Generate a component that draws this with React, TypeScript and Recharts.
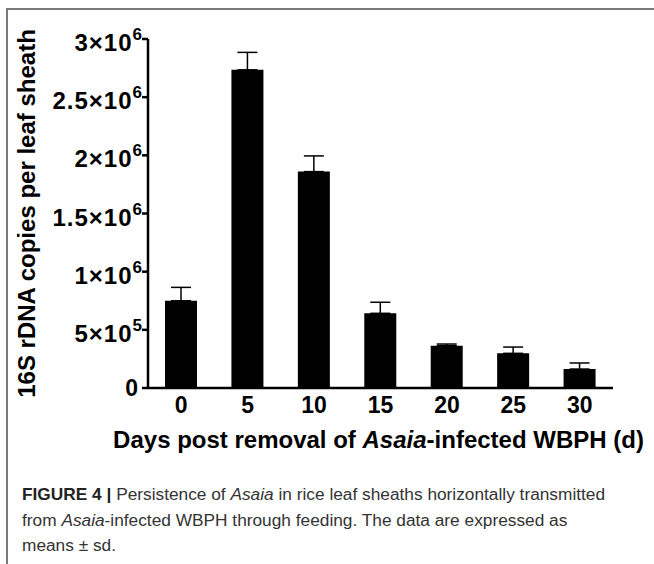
import { Bar, BarChart, ErrorBar, Label, XAxis, YAxis } from 'recharts';

const DAYS = ['0', '5', '10', '15', '20', '25', '30'];
const COPIES = [750000, 2735000, 1860000, 642000, 364000, 298000, 163000];
const SD = [115000, 150000, 135000, 95000, 14000, 54000, 52000];

const Y_TICKS = [0, 500000, 1000000, 1500000, 2000000, 2500000, 3000000];
const Y_TICK_MANTISSA = ['0', '5', '1', '1.5', '2', '2.5', '3'];
const Y_TICK_EXP = ['', '5', '6', '6', '6', '6', '6'];

const FONT = '"Liberation Sans", Arial, Helvetica, sans-serif';

const data = DAYS.map((day, i) => ({
  day,
  copies: COPIES[i],
  err: [0, SD[i]],
}));

function YTick(props: any) {
  const { x, y, payload } = props;
  const i = Y_TICKS.indexOf(payload.value);
  const m = Y_TICK_MANTISSA[i];
  const e = Y_TICK_EXP[i];
  if (!e) {
    return (
      <text x={x} y={y + 8} textAnchor="end" fontFamily={FONT} fontWeight="bold" fontSize={23} fill="#000">
        {m}
      </text>
    );
  }
  return (
    <text
      x={x + 4}
      y={y}
      textAnchor="end"
      fontFamily={FONT}
      fontWeight="bold"
      fontSize={24}
      letterSpacing={1}
      fill="#000"
    >
      <tspan dy={12}>{m}×10</tspan>
      <tspan dy={-11} fontSize={17} letterSpacing={0}>
        {e}
      </tspan>
    </text>
  );
}

function XTick(props: any) {
  const { x, y, payload } = props;
  return (
    <text x={x} y={y + 25} textAnchor="middle" fontFamily={FONT} fontWeight="bold" fontSize={23} fill="#000">
      {payload.value}
    </text>
  );
}

const axisStroke = { stroke: '#000', strokeWidth: 2.5 };

export default function App() {
  return (
    <div
      style={{
        position: 'absolute',
        left: 0,
        top: 0,
        width: 654,
        height: 564,
        background: '#fff',
        overflow: 'hidden',
      }}
    >
      {/* figure frame: top and left rules only */}
      <div style={{ position: 'absolute', left: 6, top: 8, right: 0, height: 2, background: '#7a7a7a' }} />
      <div style={{ position: 'absolute', left: 6, top: 8, bottom: 0, width: 2, background: '#7a7a7a' }} />

      <div style={{ position: 'absolute', left: 0, top: 0 }}>
        <BarChart
          width={654}
          height={470}
          data={data}
          margin={{ top: 39, right: 41, left: 0, bottom: 0 }}
          barSize={32}
        >
          <XAxis
            dataKey="day"
            height={82}
            interval={0}
            axisLine={axisStroke}
            tickLine={false}
            tickSize={0}
            tickMargin={0}
            tick={<XTick />}
          >
            <Label
              content={({ viewBox }: any) => (
                <text
                  x={viewBox.x + viewBox.width / 2 - 2}
                  y={viewBox.y + 60}
                  textAnchor="middle"
                  fontFamily={FONT}
                  fontWeight="bold"
                  fontSize={24}
                  fill="#000"
                >
                  <tspan>Days post removal of </tspan>
                  <tspan fontStyle="italic">Asaia</tspan>
                  <tspan>-infected WBPH (d)</tspan>
                </text>
              )}
            />
          </XAxis>
          <YAxis
            width={148}
            domain={[0, 3000000]}
            ticks={Y_TICKS}
            interval={0}
            axisLine={axisStroke}
            tickLine={axisStroke}
            tickSize={6}
            tickMargin={4}
            tick={<YTick />}
          >
            <Label
              content={({ viewBox }: any) => {
                const cx = 35;
                const cy = viewBox.y + viewBox.height / 2;
                return (
                  <text
                    x={cx}
                    y={cy}
                    transform={`rotate(-90, ${cx}, ${cy})`}
                    textAnchor="middle"
                    fontFamily={FONT}
                    fontWeight="bold"
                    fontSize={24}
                    fill="#000"
                  >
                    16S rDNA copies per leaf sheath
                  </text>
                );
              }}
            />
          </YAxis>
          <Bar dataKey="copies" fill="#000" isAnimationActive={false}>
            <ErrorBar dataKey="err" width={10} stroke="#000" strokeWidth={1.5} direction="y" />
          </Bar>
        </BarChart>
      </div>

      <div
        style={{
          position: 'absolute',
          left: 22,
          top: 482,
          fontFamily: FONT,
          fontSize: 17.3,
          lineHeight: '25.5px',
          color: '#333',
          whiteSpace: 'nowrap',
        }}
      >
        <b style={{ color: '#222' }}>FIGURE 4 |</b> Persistence of <i>Asaia</i> in rice leaf sheaths horizontally
        transmitted
        <br />
        from <i>Asaia</i>-infected WBPH through feeding. The data are expressed as
        <br />
        means ± sd.
      </div>
    </div>
  );
}
